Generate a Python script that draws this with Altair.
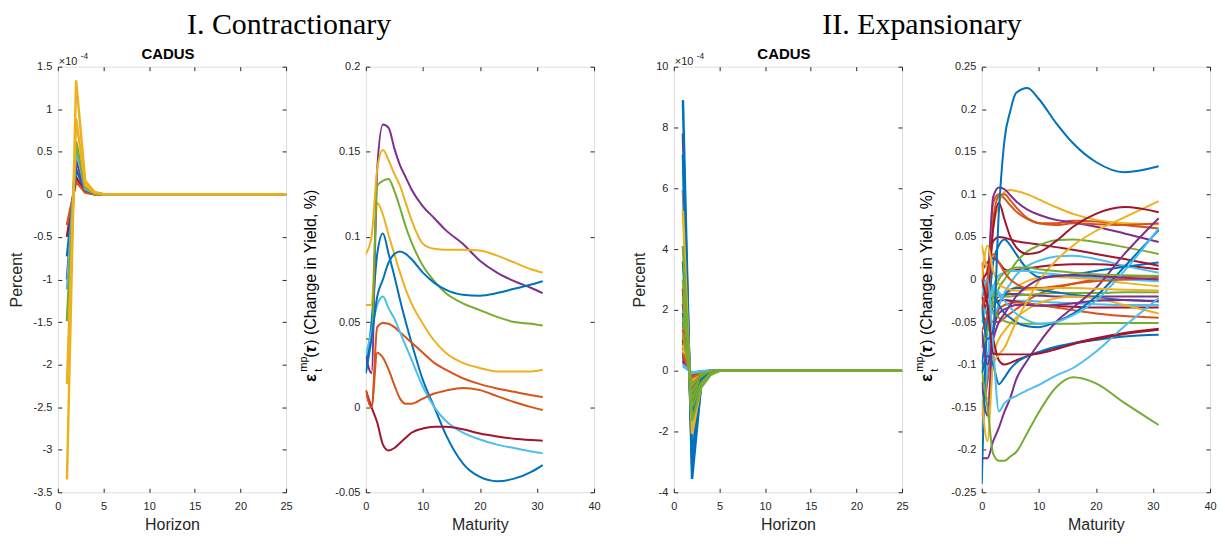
import altair as alt
import pandas as pd

# ---------------- colours (Matlab default order) ----------------
COL = {"b": "#0072BD", "o": "#D95319", "y": "#EDB120", "p": "#7E2F8E",
       "g": "#77AC30", "c": "#4DBEEE", "r": "#A2142F"}

# ---------------- Panel 1: contractionary IRF (units of 1e-4) ----------------
p1_h = [1, 2, 3, 4, 5, 25]
p1_colors = ["r", "o", "b", "p", "c", "g", "y", "y"]
p1_vals = [
    [-0.50, 0.20, 0.03, 0.00, 0.0, 0.0],
    [-0.36, 0.15, 0.02, 0.00, 0.0, 0.0],
    [-0.73, 0.29, 0.05, 0.01, 0.0, 0.0],
    [-1.00, 0.40, 0.05, 0.01, 0.0, 0.0],
    [-1.12, 0.52, 0.06, 0.01, 0.0, 0.0],
    [-1.49, 0.62, 0.08, 0.01, 0.0, 0.0],
    [-2.23, 0.89, 0.11, 0.02, 0.0, 0.0],
    [-3.35, 1.34, 0.16, 0.03, 0.0, 0.0],
]

# ---------------- Panel 2: contractionary yield responses ----------------
p2_m = [0, 1, 2, 3, 4, 5, 6, 7, 8, 10, 12, 14, 17, 20, 23, 26, 29, 31]
p2_colors = ["b", "o", "y", "p", "g", "c", "r", "b", "o", "y"]
p2_vals = [
    [0.02, 0.05, 0.09, 0.102, 0.09, 0.077, 0.063, 0.05, 0.038, 0.016, 0.0, -0.016, -0.033, -0.041, -0.0435, -0.042, -0.038, -0.034],
    [0.01, 0.0, 0.047, 0.0495, 0.049, 0.047, 0.044, 0.041, 0.038, 0.032, 0.026, 0.022, 0.017, 0.0135, 0.011, 0.009, 0.007, 0.006],
    [0.06, 0.06, 0.12, 0.113, 0.101, 0.09, 0.079, 0.069, 0.061, 0.049, 0.039, 0.032, 0.026, 0.023, 0.021, 0.021, 0.021, 0.022],
    [0.03, 0.02, 0.14, 0.166, 0.164, 0.152, 0.142, 0.135, 0.128, 0.118, 0.111, 0.104, 0.096, 0.086, 0.079, 0.074, 0.070, 0.067],
    [0.04, 0.04, 0.13, 0.133, 0.134, 0.127, 0.117, 0.106, 0.097, 0.083, 0.074, 0.067, 0.061, 0.057, 0.053, 0.05, 0.049, 0.048],
    [0.03, 0.045, 0.06, 0.065, 0.058, 0.052, 0.044, 0.036, 0.028, 0.012, 0.0, -0.008, -0.015, -0.019, -0.022, -0.024, -0.026, -0.027],
    [0.01, 0.0, -0.009, -0.022, -0.0255, -0.024, -0.021, -0.018, -0.015, -0.0125, -0.0115, -0.0115, -0.013, -0.0155, -0.0172, -0.0185, -0.0193, -0.0197],
    [0.02, 0.04, 0.065, 0.075, 0.085, 0.09, 0.0915, 0.09, 0.087, 0.079, 0.073, 0.069, 0.066, 0.0655, 0.067, 0.0695, 0.072, 0.074],
    [0.01, 0.0, 0.032, 0.029, 0.022, 0.013, 0.005, 0.002, 0.002, 0.005, 0.008, 0.0097, 0.0113, 0.01, 0.0065, 0.003, 0.0, -0.0017],
    [0.09, 0.1, 0.14, 0.151, 0.145, 0.137, 0.13, 0.12, 0.11, 0.096, 0.093, 0.0925, 0.0925, 0.092, 0.089, 0.085, 0.081, 0.079],
]

# ---------------- Panel 3: expansionary IRF (units of 1e-4) ----------------
p3_h = [1, 2, 3, 4, 5, 25]
p3_colors = ["r", "p", "o", "c", "b", "r", "p", "o", "y", "c", "b", "g",
             "r", "p", "o", "y", "c", "b", "g", "r", "p", "o", "y", "c",
             "b", "r", "p", "o", "c", "g", "b", "y", "g", "g"]
p3_vals = [
    [2.2, -0.88, -0.20, -0.05, 0.0, 0.0],
    [7.8, -3.10, -0.42, -0.09, 0.0, 0.0],
    [5.95, -2.40, -0.36, -0.08, 0.0, 0.0],
    [6.6, -2.65, -0.38, -0.08, 0.0, 0.0],
    [7.1, -2.85, -0.40, -0.09, 0.0, 0.0],
    [2.7, -1.08, -0.22, -0.06, 0.0, 0.0],
    [0.75, -0.30, -0.08, -0.02, 0.0, 0.0],
    [1.1, -0.44, -0.10, -0.03, 0.0, 0.0],
    [1.45, -0.58, -0.12, -0.03, 0.0, 0.0],
    [0.4, -0.16, -0.04, -0.01, 0.0, 0.0],
    [1.9, -0.76, -0.15, -0.04, 0.0, 0.0],
    [2.4, -0.96, -0.20, -0.05, 0.0, 0.0],
    [1.0, -0.40, -0.09, -0.02, 0.0, 0.0],
    [0.6, -0.24, -0.06, -0.02, 0.0, 0.0],
    [0.9, -0.36, -0.08, -0.02, 0.0, 0.0],
    [0.85, -0.34, -0.07, -0.02, 0.0, 0.0],
    [0.25, -0.10, -0.03, -0.01, 0.0, 0.0],
    [1.6, -0.64, -0.13, -0.04, 0.0, 0.0],
    [1.75, -0.70, -0.15, -0.04, 0.0, 0.0],
    [0.5, -0.20, -0.05, -0.01, 0.0, 0.0],
    [0.45, -0.18, -0.05, -0.01, 0.0, 0.0],
    [1.35, -0.54, -0.11, -0.03, 0.0, 0.0],
    [0.7, -0.28, -0.06, -0.02, 0.0, 0.0],
    [0.15, -0.06, -0.02, 0.0, 0.0, 0.0],
    [3.6, -1.45, -0.30, -0.07, 0.0, 0.0],
    [0.3, -0.12, -0.03, -0.01, 0.0, 0.0],
    [0.35, -0.14, -0.04, -0.01, 0.0, 0.0],
    [0.55, -0.22, -0.05, -0.01, 0.0, 0.0],
    [0.2, -0.08, -0.02, 0.0, 0.0, 0.0],
    [1.2, -0.48, -0.10, -0.03, 0.0, 0.0],
    [8.9, -3.56, -0.45, -0.10, 0.0, 0.0],
    [5.25, -2.08, -0.50, -0.12, 0.0, 0.0],
    [4.1, -1.65, -0.55, -0.15, 0.0, 0.0],
    [3.0, -1.20, -0.40, -0.10, 0.0, 0.0],
]

# ---------------- Panel 4: expansionary yield responses ----------------
p4_m = [0, 1, 2, 3, 4, 5, 6, 8, 10, 13, 16, 20, 25, 31]
p4_colors = ["r", "o", "y", "p", "g", "c", "b"] * 5 + ["r"]
p4_vals = [
    [0.01, 0.02, 0.025, 0.02, 0.012, 0.01, 0.011, 0.013, 0.015, 0.017, 0.018, 0.018, 0.016, 0.012],
    [0.02, -0.03, -0.05, -0.05, -0.045, -0.04, -0.035, -0.025, -0.017, -0.01, -0.005, 0.0, 0.003, 0.004],
    [0.04, 0.01, -0.02, -0.025, -0.02, -0.014, -0.009, -0.002, 0.002, 0.003, 0.002, 0.0, -0.004, -0.008],
    [-0.03, -0.06, -0.03, -0.02, -0.018, -0.017, -0.017, -0.018, -0.019, -0.02, -0.02, -0.02, -0.02, -0.02],
    [-0.05, -0.03, -0.015, -0.018, -0.02, -0.02, -0.019, -0.018, -0.017, -0.016, -0.016, -0.016, -0.015, -0.015],
    [-0.01, 0.0, -0.01, -0.02, -0.024, -0.025, -0.025, -0.025, -0.026, -0.027, -0.028, -0.029, -0.03, -0.03],
    [-0.11, -0.09, -0.06, -0.03, -0.018, -0.012, -0.01, -0.01, -0.012, -0.015, -0.018, -0.021, -0.024, -0.025],
    [-0.04, -0.05, -0.03, -0.025, -0.024, -0.025, -0.026, -0.028, -0.03, -0.031, -0.032, -0.033, -0.033, -0.033],
    [-0.16, -0.12, -0.06, -0.035, -0.03, -0.028, -0.027, -0.028, -0.03, -0.033, -0.036, -0.04, -0.043, -0.045],
    [-0.1, -0.14, -0.09, -0.07, -0.06, -0.052, -0.045, -0.035, -0.028, -0.022, -0.02, -0.022, -0.03, -0.04],
    [-0.12, -0.16, -0.06, -0.04, -0.035, -0.032, -0.03, -0.03, -0.031, -0.03, -0.028, -0.025, -0.024, -0.026],
    [-0.08, -0.05, -0.037, -0.045, -0.049, -0.051, -0.052, -0.052, -0.052, -0.052, -0.052, -0.051, -0.051, -0.051],
    [0.0, -0.02, -0.04, -0.03, -0.015, -0.005, 0.005, 0.016, 0.022, 0.027, 0.028, 0.024, 0.016, 0.008],
    [-0.1, -0.05, 0.02, 0.04, 0.047, 0.04, 0.03, 0.012, 0.003, 0.004, 0.006, 0.01, 0.015, 0.02],
    [0.0, 0.01, 0.045, 0.05, 0.049, 0.047, 0.045, 0.043, 0.041, 0.038, 0.035, 0.03, 0.024, 0.016],
    [-0.03, -0.01, 0.09, 0.1, 0.095, 0.087, 0.08, 0.071, 0.066, 0.066, 0.069, 0.068, 0.064, 0.06],
    [-0.01, 0.0, 0.06, 0.09, 0.103, 0.105, 0.104, 0.1, 0.094, 0.085, 0.077, 0.07, 0.066, 0.065],
    [-0.02, 0.0, 0.097, 0.108, 0.106, 0.099, 0.092, 0.082, 0.076, 0.07, 0.067, 0.062, 0.054, 0.044],
    [-0.02, -0.04, -0.03, -0.01, 0.0, 0.01, 0.02, 0.033, 0.04, 0.046, 0.047, 0.044, 0.038, 0.03],
    [-0.18, -0.1, -0.01, 0.005, 0.008, 0.01, 0.01, 0.01, 0.008, 0.006, 0.004, 0.002, 0.0, -0.002],
    [-0.24, -0.05, -0.02, -0.03, -0.04, -0.045, -0.05, -0.055, -0.056, -0.05, -0.04, -0.02, 0.015, 0.058],
    [-0.02, -0.04, -0.07, -0.095, -0.1, -0.098, -0.095, -0.09, -0.086, -0.08, -0.075, -0.069, -0.063, -0.058],
    [-0.06, -0.04, 0.07, 0.098, 0.1, 0.093, 0.085, 0.072, 0.066, 0.064, 0.066, 0.065, 0.064, 0.066],
    [-0.14, -0.19, -0.1, -0.088, -0.08, -0.065, -0.05, -0.025, -0.002, 0.022, 0.04, 0.057, 0.073, 0.092],
    [-0.21, -0.21, -0.19, -0.174, -0.155, -0.139, -0.118, -0.095, -0.075, -0.05, -0.033, -0.01, 0.03, 0.072],
    [-0.08, -0.06, -0.02, 0.0, 0.008, 0.012, 0.014, 0.014, 0.012, 0.01, 0.008, 0.006, 0.005, 0.004],
    [-0.05, -0.03, -0.01, -0.015, -0.025, -0.033, -0.04, -0.048, -0.052, -0.05, -0.042, -0.025, 0.01, 0.06],
    [-0.11, -0.09, -0.1, -0.123, -0.115, -0.105, -0.098, -0.09, -0.085, -0.079, -0.075, -0.071, -0.067, -0.065],
    [-0.03, -0.02, 0.06, 0.09, 0.07, 0.05, 0.038, 0.03, 0.032, 0.045, 0.062, 0.077, 0.085, 0.079],
    [-0.04, 0.0, 0.03, 0.02, 0.008, 0.0, -0.005, -0.01, -0.01, -0.008, -0.005, -0.002, 0.0, 0.002],
    [0.0, 0.04, 0.01, -0.005, -0.01, -0.012, -0.013, -0.012, -0.011, -0.01, -0.01, -0.011, -0.012, -0.013],
    [-0.06, -0.1, -0.07, -0.05, -0.04, -0.03, -0.02, -0.008, 0.0, 0.004, 0.005, 0.004, 0.002, 0.0],
    [-0.11, -0.15, -0.205, -0.213, -0.213, -0.208, -0.203, -0.18, -0.156, -0.127, -0.115, -0.122, -0.145, -0.171],
    [-0.02, 0.0, -0.08, -0.155, -0.145, -0.14, -0.137, -0.13, -0.124, -0.113, -0.104, -0.085, -0.055, -0.022],
    [-0.03, -0.07, -0.06, 0.08, 0.165, 0.198, 0.219, 0.225, 0.212, 0.184, 0.16, 0.138, 0.126, 0.133],
    [0.0, -0.03, -0.087, -0.088, -0.088, -0.088, -0.088, -0.088, -0.087, -0.082, -0.076, -0.07, -0.064, -0.059],
]

# axis tick values
x_h_ticks = [0, 5, 10, 15, 20, 25]
x_m_ticks = [0, 10, 20, 30, 40]
y1_ticks = [-3.5, -3, -2.5, -2, -1.5, -1, -0.5, 0, 0.5, 1, 1.5]
y2_ticks = [-0.05, 0, 0.05, 0.1, 0.15, 0.2]
y3_ticks = [-4, -2, 0, 2, 4, 6, 8, 10]
y4_ticks = [-0.25, -0.2, -0.15, -0.1, -0.05, 0, 0.05, 0.1, 0.15, 0.2, 0.25]

W, H = 229, 427
FONT = "Liberation Sans"
INK = "#262626"
LBL = "toString(datum.value)"


def long_df(xs, vals, tag):
    rows = []
    for i, v in enumerate(vals):
        for x, y in zip(xs, v):
            rows.append({"x": x, "y": y, "s": f"{tag}{i:02d}"})
    return pd.DataFrame(rows)


def ax(orient, vals, title=None, labels=True, **kw):
    opts = dict(orient=orient, values=vals, offset=-4, tickSize=4, tickColor=INK,
                domain=False, grid=False, labels=labels, labelFont=FONT,
                labelFontSize=11, labelColor=INK, labelExpr=LBL, labelFlush=False,
                labelOverlap=False, titleFont=FONT, titleFontSize=16,
                titleFontWeight="normal", titleColor=INK)
    opts.update(kw)
    return alt.Axis(title=title, **opts)


def text_mark(txt, x, y, size, font=FONT, color=INK, **kw):
    return alt.Chart(pd.DataFrame({"k": [0]})).mark_text(
        text=txt, fontSize=size, font=font, color=color, **kw
    ).encode(x=alt.value(x), y=alt.value(y))


def sci_label():
    return [text_mark("×10", 1, -2, 11, align="left", baseline="alphabetic"),
            text_mark("-4", 23, -8, 8.5, align="left", baseline="alphabetic")]


def cadus():
    return text_mark("CADUS", W / 2 - 4, -8, 15, color="black", fontWeight="bold",
                     align="center", baseline="alphabetic")


def super_title(txt, xc):
    return text_mark(txt, xc, -57, 30, font="Liberation Serif", color="black",
                     align="center", baseline="top")


def eps_label():
    parts = [
        ("ε", 16, "bold", "normal", -55, 316),
        ("mp", 11, "normal", "normal", -62, 306),
        ("t", 11, "normal", "normal", -47, 306),
        ("(", 16, "normal", "normal", -55, 292),
        ("τ", 16, "bold", "italic", -55, 287),
        (") (Change in Yield, %)", 16, "normal", "normal", -55, 279),
    ]
    out = []
    for t, sz, fw, fs, x, y in parts:
        out.append(text_mark(t, x, y, sz, color="black", fontWeight=fw, fontStyle=fs,
                             align="left", baseline="middle", angle=270))
    return out


def panel(tag, xs, vals, cols, xdom, xticks, ydom, yticks, xtitle, ytitle, sw, interp,
          extra):
    df = long_df(xs, vals, tag)
    names = [f"{tag}{i:02d}" for i in range(len(vals))]
    xsc = alt.Scale(domain=xdom, nice=False, zero=False)
    ysc = alt.Scale(domain=ydom, nice=False, zero=False)
    lines = alt.Chart(df).mark_line(strokeWidth=sw, interpolate=interp, clip=True).encode(
        x=alt.X("x:Q", scale=xsc, axis=ax("bottom", xticks, xtitle, labelPadding=8, titlePadding=5)),
        y=alt.Y("y:Q", scale=ysc, axis=ax("left", yticks, ytitle, labelPadding=6, titlePadding=8)),
        color=alt.Color("s:N", scale=alt.Scale(domain=names, range=[COL[c] for c in cols]),
                        legend=None),
    )
    frame = alt.Chart(df).mark_line(opacity=0).encode(
        x=alt.X("x:Q", scale=xsc, axis=ax("top", xticks, None, labels=False)),
        y=alt.Y("y:Q", scale=ysc, axis=ax("right", yticks, None, labels=False)),
        detail="s:N",
    )
    ch = alt.layer(lines, frame, *extra).resolve_axis(x="independent", y="independent")
    return ch.properties(width=W, height=H)


p1 = panel("a", p1_h, p1_vals, p1_colors, [0, 25], x_h_ticks, [-3.5, 1.5], y1_ticks,
           "Horizon", "Percent", 2.5, "linear",
           sci_label() + [cadus(), super_title("I. Contractionary", 232)])
p2 = panel("b", p2_m, p2_vals, p2_colors, [0, 40], x_m_ticks, [-0.05, 0.2], y2_ticks,
           "Maturity", None, 2, "monotone", eps_label())
p3 = panel("c", p3_h, p3_vals, p3_colors, [0, 25], x_h_ticks, [-4, 10], y3_ticks,
           "Horizon", "Percent", 2.5, "linear",
           sci_label() + [cadus(), super_title("II. Expansionary", 249)])
p4 = panel("d", p4_m, p4_vals, p4_colors, [0, 40], x_m_ticks, [-0.25, 0.25], y4_ticks,
           "Maturity", None, 2, "monotone", eps_label())

chart = alt.hconcat(p1, p2, p3, p4, spacing=80, bounds="flush").resolve_scale(
    color="independent"
).configure_view(
    stroke="#4d4d4d", strokeWidth=1
).configure(font=FONT).properties(padding={"left": 0, "top": 0, "right": 0, "bottom": 0})

chart.save("out.html", embed_options={"renderer": "svg", "actions": False})
